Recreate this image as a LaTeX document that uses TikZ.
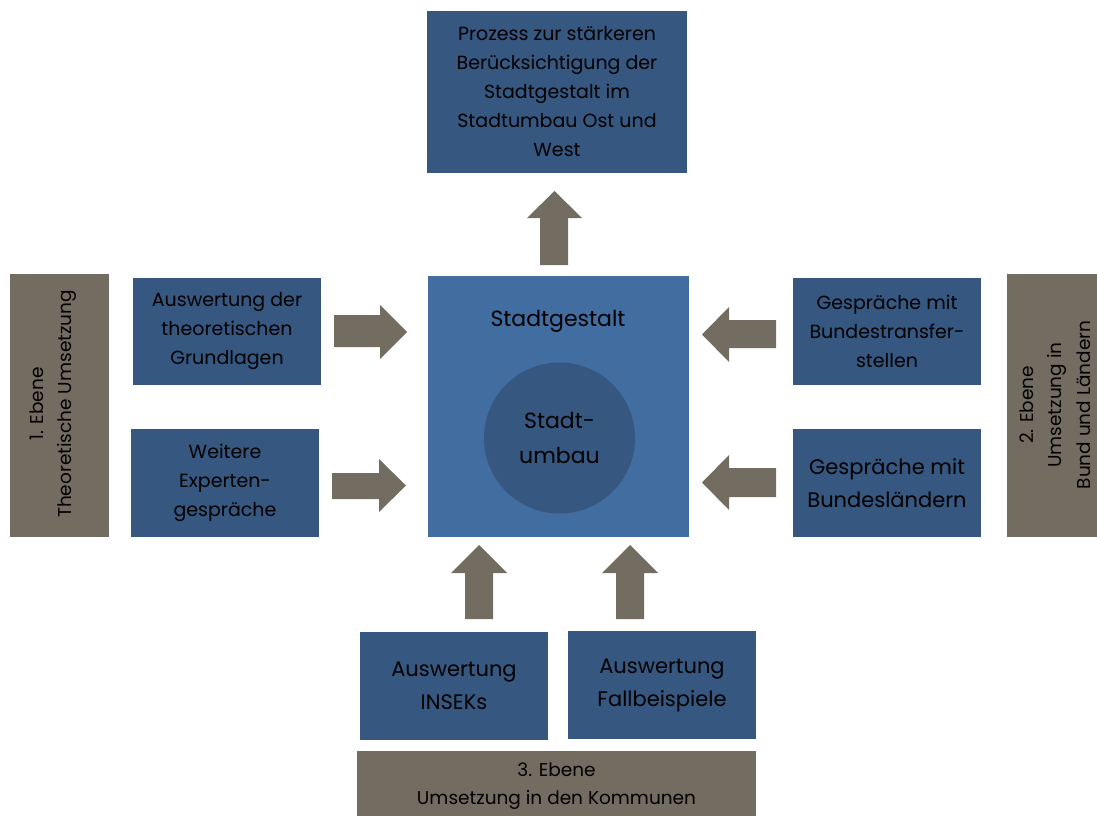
\documentclass[tikz,border=0pt]{standalone}
\usepackage{fontspec}
\setmainfont{Poppins}
\definecolor{dblue}{HTML}{355780}
\definecolor{lblue}{HTML}{426DA0}
\definecolor{bgray}{HTML}{736C60}
\begin{document}
\begin{tikzpicture}[x=1pt,y=-1pt,
  box/.style={fill=dblue, draw=none, inner sep=0pt, align=center, text=black,
    font=\fontsize{19}{29}\selectfont},
  bigtext/.style={font=\fontsize{21}{33}\selectfont},
  graybox/.style={fill=bgray, draw=none, inner sep=0pt},
  graytext/.style={align=center, text=black, inner sep=0pt, font=\fontsize{18.5}{28.5}\selectfont},
  blockarrow/.style={fill=bgray, draw=none}]
\useasboundingbox (0,0) rectangle (1097,816);
% top box
\node[box, minimum width=260pt, minimum height=162pt] (top) at (557,92)
  {Prozess zur stärkeren\\Berücksichtigung der\\Stadtgestalt im\\Stadtumbau Ost und\\West};
% centre
\node[fill=lblue, minimum width=261pt, minimum height=261pt, inner sep=0pt] (centre) at (558.5,406.5) {};
\node[text=black, inner sep=0pt, font=\fontsize{22}{34}\selectfont] (sg) at (558,321) {Stadtgestalt};
\node[circle, fill=dblue, minimum size=151pt, inner sep=0pt, align=center, text=black,
  font=\fontsize{22}{35}\selectfont] (su) at (559.5,438) {Stadt-\\umbau};
% left
\node[graybox, minimum width=99pt, minimum height=263pt] (lgray) at (59.5,405.5) {};
\node[graytext, rotate=90] (lgraytext) at (53,404) {1. Ebene\\Theoretische Umsetzung};
\node[box, minimum width=188pt, minimum height=107pt] (l1) at (227,331.5)
  {Auswertung der\\theoretischen\\Grundlagen};
\node[box, minimum width=188pt, minimum height=108pt] (l2) at (225,483)
  {Weitere\\Experten-\\gespräche};
% right
\node[box, minimum width=188pt, minimum height=107pt] (r1) at (887,331.5)
  {Gespräche mit\\Bundestransfer-\\stellen};
\node[box, bigtext, minimum width=188pt, minimum height=108pt] (r2) at (887,483)
  {Gespräche mit\\Bundesländern};
\node[graybox, minimum width=90pt, minimum height=263pt] (rgray) at (1052,405.5) {};
\node[graytext, rotate=90] (rgraytext) at (1055,405) {2. Ebene\\Umsetzung in\\Bund und Ländern};
% bottom
\node[box, bigtext, minimum width=188pt, minimum height=108pt] (b1) at (454,686)
  {Auswertung\\INSEKs};
\node[box, bigtext, minimum width=188pt, minimum height=108pt] (b2) at (662,685)
  {Auswertung\\Fallbeispiele};
\node[graybox, minimum width=399pt, minimum height=65pt] (bgraybox) at (556.5,783.5) {};
\node[graytext] (bgraytext) at (556.5,786) {3. Ebene\\Umsetzung in den Kommunen};
% block arrows
\fill[blockarrow] (540,265)--(540,218)--(527,218)--(554.5,191)--(582,218)--(568,218)--(568,265)--cycle;
\fill[blockarrow] (334,315)--(380,315)--(380,305)--(407,332)--(380,359)--(380,347)--(334,347)--cycle;
\fill[blockarrow] (332,473)--(379,473)--(379,459)--(406,485.5)--(379,512)--(379,499)--(332,499)--cycle;
\fill[blockarrow] (776,320)--(729,320)--(729,307)--(702,334.5)--(729,362)--(729,348)--(776,348)--cycle;
\fill[blockarrow] (776,468)--(729,468)--(729,455)--(702,482.5)--(729,510)--(729,497)--(776,497)--cycle;
\fill[blockarrow] (465,619)--(465,573)--(451,573)--(479,545)--(507,573)--(493,573)--(493,619)--cycle;
\fill[blockarrow] (616,619)--(616,573)--(602,573)--(630,545)--(658,573)--(644,573)--(644,619)--cycle;
\end{tikzpicture}
\end{document}
